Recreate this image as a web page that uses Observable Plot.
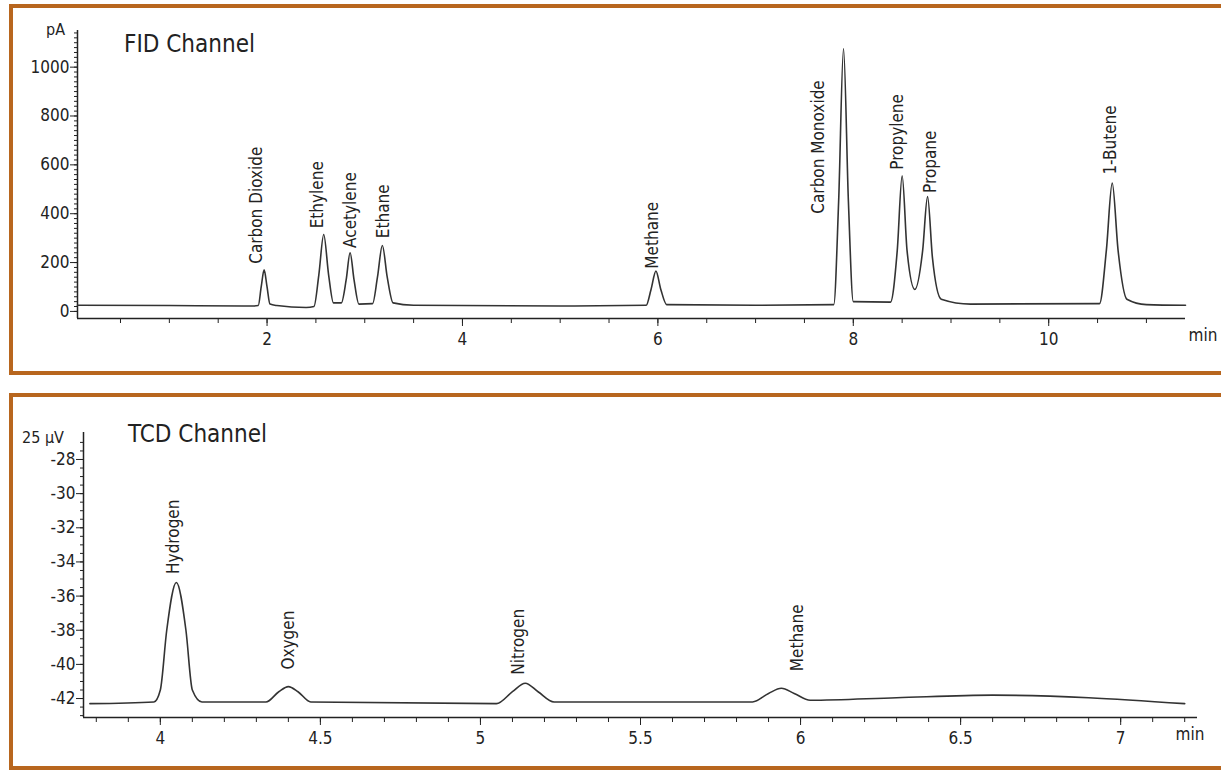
<!DOCTYPE html>
<html><head><meta charset="utf-8">
<script src="https://cdn.jsdelivr.net/npm/d3@7"></script>
<script src="https://cdn.jsdelivr.net/npm/@observablehq/plot@0.6"></script>
<style>
body{margin:0;background:#fff;font-family:"DejaVu Sans",sans-serif;font-stretch:condensed;}
svg text{font-stretch:condensed}
#wrap{position:relative;width:1221px;height:772px;overflow:hidden}
.frame{position:absolute;border:4px solid #b8661e;box-sizing:border-box}
.p{position:absolute;left:0}
.t{position:absolute;font-size:24px;color:#222}
.u{position:absolute;font-size:16px;color:#222}
</style></head><body>
<div id="wrap">
<div class="frame" style="left:9px;top:4px;width:1220px;height:371px"></div>
<div class="frame" style="left:9px;top:393px;width:1220px;height:377px"></div>
<div id="top" class="p" style="top:0"></div>
<div id="bot" class="p" style="top:390px"></div>
<div class="t" style="left:124px;top:30px">FID Channel</div>
<div class="t" style="left:128px;top:420px">TCD Channel</div>
<div class="u" style="left:46px;top:20px">pA</div>
<div class="u" style="left:22px;top:428px">25 µV</div>
</div>
<script>
const fid = [[0.06,25],[1.0,24],[1.85,22],[1.91,24],[1.94,100],[1.97,170],[2.00,100],[2.03,30],[2.1,24],[2.4,16],[2.48,20],[2.53,150],[2.58,315],[2.63,150],[2.68,35],[2.76,35],[2.81,130],[2.85,240],[2.89,130],[2.94,30],[3.08,32],[3.13,140],[3.18,270],[3.23,140],[3.29,35],[3.5,25],[5.0,22],[5.88,25],[5.93,90],[5.98,165],[6.03,90],[6.09,28],[7.0,25],[7.8,28],[7.85,450],[7.9,1075],[7.95,450],[8.0,40],[8.38,38],[8.45,250],[8.5,555],[8.55,250],[8.63,90],[8.71,250],[8.76,470],[8.81,220],[8.9,50],[9.2,30],[10.52,32],[10.59,250],[10.65,525],[10.71,250],[10.8,50],[11.0,28],[11.4,25]];
const fidLabels = [[1.89,195,"Carbon Dioxide"],[2.52,340,"Ethylene"],[2.85,260,"Acetylene"],[3.19,300,"Ethane"],[5.95,175,"Methane"],[7.64,400,"Carbon Monoxide"],[8.45,580,"Propylene"],[8.79,485,"Propane"],[10.63,560,"1-Butene"]];
const fidXTicks = [2,4,6,8,10];
const fidYTicks = [0,200,400,600,800,1000];
const tcd = [[3.78,-42.3],[3.98,-42.2],[4.0,-41.5],[4.02,-38],[4.05,-35.2],[4.08,-38],[4.1,-41.5],[4.13,-42.2],[4.33,-42.2],[4.37,-41.6],[4.40,-41.3],[4.43,-41.6],[4.47,-42.2],[5.05,-42.3],[5.1,-41.6],[5.14,-41.1],[5.18,-41.6],[5.23,-42.2],[5.85,-42.2],[5.9,-41.7],[5.94,-41.4],[5.98,-41.7],[6.03,-42.1],[6.3,-41.95],[6.6,-41.8],[6.9,-41.95],[7.2,-42.3]];
const tcdLabels = [[4.04,-34.7,"Hydrogen"],[4.40,-40.3,"Oxygen"],[5.12,-40.6,"Nitrogen"],[5.99,-40.4,"Methane"]];
const tcdXTicks = [4,4.5,5,5.5,6,6.5,7];
const tcdYTicks = [-42,-40,-38,-36,-34,-32,-30,-28];

const font = '"DejaVu Sans",sans-serif';
function chart(o){
  return Plot.plot({
    width:1221, height:o.h, marginLeft:o.ml, marginRight:o.mr, marginTop:o.mt, marginBottom:o.mb,
    style:{fontFamily:font, fontSize:"16px", color:"#222", background:"transparent", overflow:"visible"},
    x:{domain:o.xd}, y:{domain:o.yd},
    marks:[
      Plot.axisX({ticks:o.xMinor, tickSize:5, tickFormat:()=>"", stroke:"#222"}),
      Plot.axisX({ticks:o.xt, tickSize:8, tickPadding:6, tickFormat:o.xf, fontSize:17, stroke:"#222"}),
      Plot.axisY({ticks:o.yMinor, tickSize:3, tickFormat:()=>"", stroke:"#222"}),
      Plot.axisY({ticks:o.yt, tickSize:7, tickPadding:1, fontSize:17, tickFormat:d=>String(d), label:null}),
      Plot.ruleX([o.xd[0]],{stroke:"#222",strokeWidth:1.5}),
      Plot.ruleY([o.yd[0]],{stroke:"#222",strokeWidth:1.5}),
      Plot.text(["min"],{frameAnchor:"bottom-right", dy:22, dx:o.mdx, fontSize:17, textAnchor:"start"}),
      Plot.line(o.data,{x:d=>d[0],y:d=>d[1],curve:"monotone-x",stroke:"#333",strokeWidth:1.6}),
      Plot.text(o.labels,{x:d=>d[0],y:d=>d[1],text:d=>d[2],rotate:-90,textAnchor:"start",fontSize:17,fill:"#222"})
    ]
  });
}
document.getElementById("top").append(chart({h:380,ml:77,mr:36,mt:30,mb:62,xd:[0.06,11.4],yd:[-29,1150],mdx:3,
  xt:fidXTicks,xMinor:d3.range(0.5,11.4,0.5),xf:d=>String(d),yt:fidYTicks,yMinor:d3.range(0,1150,20),data:fid,labels:fidLabels}));
document.getElementById("bot").append(chart({h:382,ml:83,mr:24,mt:42,mb:55,xd:[3.76,7.24],yd:[-43.11,-26.42],mdx:-22,
  xt:tcdXTicks,xMinor:d3.range(3.8,7.24,0.1),xf:d=>String(d),yt:tcdYTicks,yMinor:d3.range(-43,-26.5,0.5),data:tcd,labels:tcdLabels}));
</script>
</body></html>
